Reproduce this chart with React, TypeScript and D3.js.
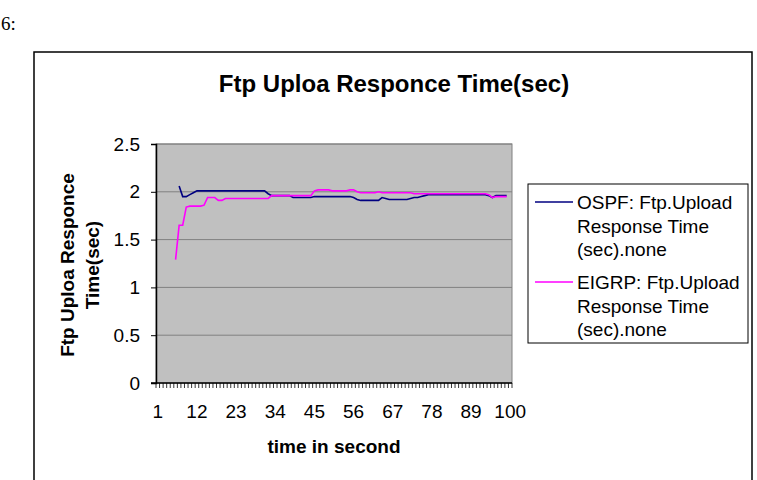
import React, { useRef, useEffect } from "react";
import * as d3 from "d3";

const categories = d3.range(1, 101);
const xTickLabels = [1, 12, 23, 34, 45, 56, 67, 78, 89, 100];
const yTicks = [0, 0.5, 1, 1.5, 2, 2.5];

const ospf = [
  null, null, null, null, null, null, 2.06, 1.95, 1.95, 1.97,
  1.99, 2.01, 2.01, 2.01, 2.01, 2.01, 2.01, 2.01, 2.01, 2.01,
  2.01, 2.01, 2.01, 2.01, 2.01, 2.01, 2.01, 2.01, 2.01, 2.01,
  2.01, 1.98, 1.96, 1.96, 1.96, 1.96, 1.96, 1.96, 1.94, 1.94,
  1.94, 1.94, 1.94, 1.94, 1.95, 1.95, 1.95, 1.95, 1.95, 1.95,
  1.95, 1.95, 1.95, 1.95, 1.95, 1.94, 1.92, 1.91, 1.91, 1.91,
  1.91, 1.91, 1.91, 1.94, 1.93, 1.92, 1.92, 1.92, 1.92, 1.92,
  1.92, 1.93, 1.94, 1.94, 1.95, 1.96, 1.97, 1.97, 1.97, 1.97,
  1.97, 1.97, 1.97, 1.97, 1.97, 1.97, 1.97, 1.97, 1.97, 1.97,
  1.97, 1.97, 1.97, 1.96, 1.94, 1.96, 1.96, 1.96, 1.96, null,
];

const eigrp = [
  null, null, null, null, null, 1.29, 1.65, 1.65, 1.84, 1.85,
  1.85, 1.85, 1.85, 1.86, 1.94, 1.94, 1.94, 1.91, 1.91, 1.93,
  1.93, 1.93, 1.93, 1.93, 1.93, 1.93, 1.93, 1.93, 1.93, 1.93,
  1.93, 1.93, 1.96, 1.96, 1.96, 1.96, 1.96, 1.96, 1.96, 1.96,
  1.96, 1.96, 1.96, 1.96, 2.01, 2.02, 2.02, 2.02, 2.02, 2.01,
  2.01, 2.01, 2.01, 2.01, 2.02, 2.02, 2.0, 1.99, 1.99, 1.99,
  1.99, 1.99, 2.0, 1.99, 1.99, 1.99, 1.99, 1.99, 1.99, 1.99,
  1.99, 1.99, 1.98, 1.98, 1.98, 1.98, 1.98, 1.98, 1.98, 1.98,
  1.98, 1.98, 1.98, 1.98, 1.98, 1.98, 1.98, 1.98, 1.98, 1.98,
  1.98, 1.98, 1.98, 1.97, 1.94, 1.95, 1.95, 1.95, 1.95, null,
];

const seriesNames = ["OSPF", "EIGRP"];
const seriesColors = ["#000080", "#ff00ff"];

const FONT = "'Liberation Sans', Arial, sans-serif";

const App = () => {
  const ref = useRef<SVGSVGElement>(null);

  useEffect(() => {
    const svg = d3.select(ref.current);
    svg.selectAll("*").remove();

    const left = 156;
    const right = 512;
    const top = 144;
    const bottom = 383;

    const x = d3.scaleBand<number>().domain(categories).range([left, right]);
    const y = d3.scaleLinear().domain([0, 2.5]).range([bottom, top]);
    const bw = x.bandwidth();

    // figure label above chart
    svg.append("text")
      .attr("x", 1)
      .attr("y", 30)
      .style("font-family", "'Liberation Serif', 'Times New Roman', serif")
      .style("font-size", "19px")
      .text("6:");

    // chart frame
    svg.append("rect")
      .attr("x", 34)
      .attr("y", 52)
      .attr("width", 718)
      .attr("height", 440)
      .attr("fill", "#fff")
      .attr("stroke", "#000")
      .attr("stroke-width", 1.5);

    svg.append("text")
      .attr("x", 394)
      .attr("y", 92)
      .attr("text-anchor", "middle")
      .style("font-family", FONT)
      .style("font-weight", "bold")
      .style("font-size", "24px")
      .text("Ftp Uploa Responce Time(sec)");

    // plot area
    svg.append("rect")
      .attr("x", left)
      .attr("y", top)
      .attr("width", right - left)
      .attr("height", bottom - top)
      .attr("fill", "#c0c0c0")
      .attr("stroke", "#808080")
      .attr("stroke-width", 1);

    svg.append("g")
      .selectAll("line")
      .data(yTicks.slice(1))
      .enter()
      .append("line")
      .attr("x1", left)
      .attr("x2", right)
      .attr("y1", (d) => y(d))
      .attr("y2", (d) => y(d))
      .attr("stroke", "#808080")
      .attr("stroke-width", 1);

    // y axis
    const yAxis = svg.append("g")
      .attr("transform", `translate(${left},0)`)
      .call(
        d3.axisLeft(y)
          .tickValues(yTicks)
          .tickSize(5)
          .tickPadding(11)
          .tickFormat((d) => String(d))
      );
    yAxis.select(".domain").attr("stroke", "#000").attr("stroke-width", 1.5);
    yAxis.selectAll("line").attr("stroke", "#000");
    yAxis.selectAll("text")
      .style("font-family", FONT)
      .style("font-size", "19px")
      .attr("fill", "#000");

    // x axis
    svg.append("line")
      .attr("x1", left - 5)
      .attr("x2", right)
      .attr("y1", bottom)
      .attr("y2", bottom)
      .attr("stroke", "#000")
      .attr("stroke-width", 1.5);

    const tickPos = categories.map((c) => x(c)).concat([right]);
    svg.append("g")
      .selectAll("line")
      .data(tickPos)
      .enter()
      .append("line")
      .attr("x1", (d) => d)
      .attr("x2", (d) => d)
      .attr("y1", bottom)
      .attr("y2", bottom + 5)
      .attr("stroke", "#000")
      .attr("stroke-width", 0.8);

    svg.append("g")
      .selectAll("text")
      .data(xTickLabels)
      .enter()
      .append("text")
      .attr("x", (d) => x(d) + bw / 2)
      .attr("y", 418)
      .attr("text-anchor", "middle")
      .style("font-family", FONT)
      .style("font-size", "19px")
      .text((d) => d);

    svg.append("text")
      .attr("x", 334)
      .attr("y", 453)
      .attr("text-anchor", "middle")
      .style("font-family", FONT)
      .style("font-weight", "bold")
      .style("font-size", "19px")
      .text("time in second");

    const yTitle = svg.append("text")
      .attr("transform", "translate(0,265) rotate(-90)")
      .attr("text-anchor", "middle")
      .style("font-family", FONT)
      .style("font-weight", "bold")
      .style("font-size", "19px");
    yTitle.append("tspan").attr("x", 0).attr("y", 74).text("Ftp Uploa Responce");
    yTitle.append("tspan").attr("x", 0).attr("y", 99).text("Time(sec)");

    // series lines
    const line = d3.line<number | null>()
      .defined((d) => d != null)
      .x((d, i) => x(categories[i]) + bw / 2)
      .y((d) => y(d as number));

    [ospf, eigrp].forEach((s, i) => {
      svg.append("path")
        .datum(s)
        .attr("fill", "none")
        .attr("stroke", seriesColors[i])
        .attr("stroke-width", 1.6)
        .attr("d", line);
    });

    // legend
    svg.append("rect")
      .attr("x", 528)
      .attr("y", 184)
      .attr("width", 220)
      .attr("height", 159)
      .attr("fill", "#fff")
      .attr("stroke", "#000")
      .attr("stroke-width", 1);

    seriesNames.forEach((name, i) => {
      const cy = 202 + i * 80;
      svg.append("line")
        .attr("x1", 535)
        .attr("x2", 573)
        .attr("y1", cy)
        .attr("y2", cy)
        .attr("stroke", seriesColors[i])
        .attr("stroke-width", 1.6);
      const t = svg.append("text")
        .style("font-family", FONT)
        .style("font-size", "19px");
      [`${name}: Ftp.Upload`, "Response Time", "(sec).none"].forEach((s, k) => {
        t.append("tspan")
          .attr("x", 577)
          .attr("y", cy + 7 + k * 23.5)
          .text(s);
      });
    });
  }, []);

  return (
    <svg
      ref={ref}
      width={757}
      height={480}
      style={{ position: "fixed", left: 0, top: 0, background: "#fff" }}
    ></svg>
  );
};

export default App;
